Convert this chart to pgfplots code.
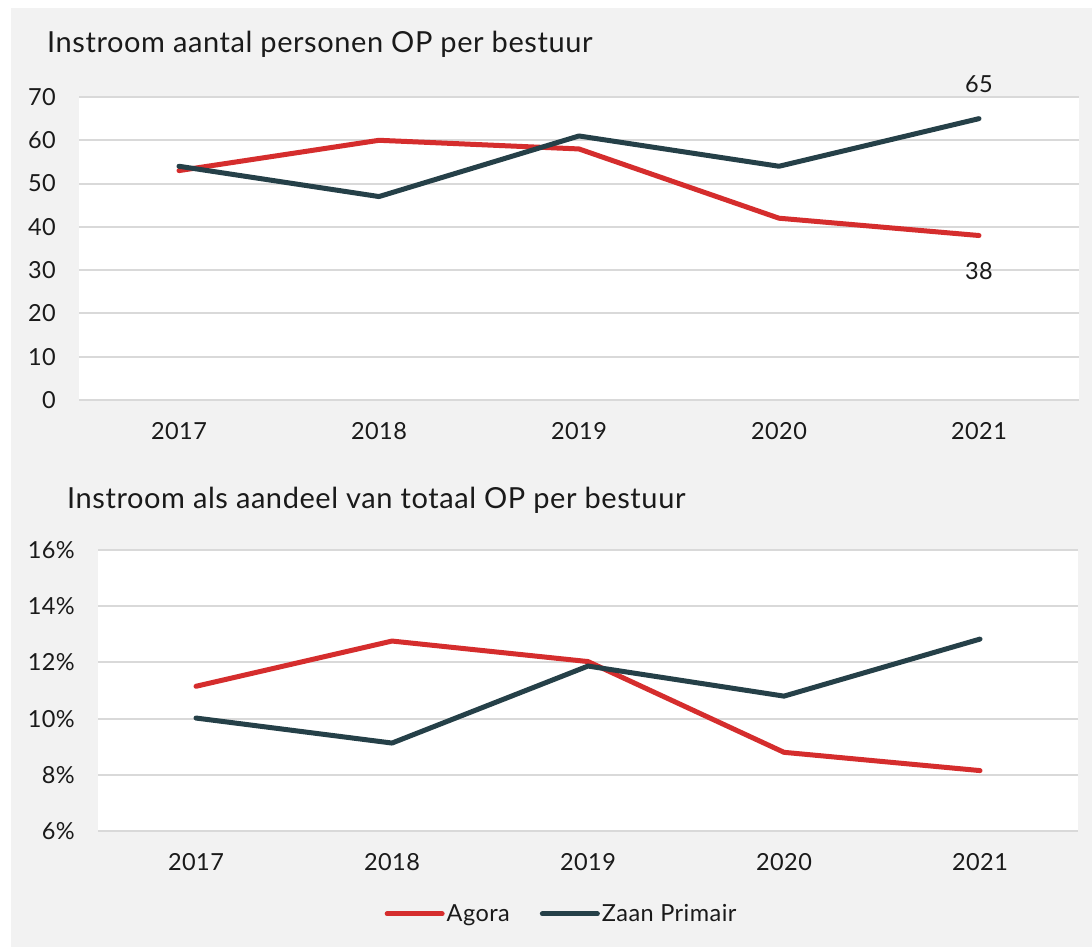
\documentclass[border=0pt]{standalone}
\usepackage{fontspec}
\setmainfont{Lato}
\usepackage{pgfplots}
\pgfplotsset{compat=1.18}
\definecolor{bg}{RGB}{242,242,242}
\definecolor{gridc}{RGB}{217,217,217}
\definecolor{agora}{RGB}{213,45,45}
\definecolor{zaan}{RGB}{37,64,72}
\definecolor{txt}{RGB}{26,26,26}
\newcommand{\tickfont}{\fontsize{23.5}{27}\selectfont\addfontfeatures{LetterSpace=2}}
\newcommand{\titlefont}{\fontsize{29}{33}\selectfont\addfontfeatures{LetterSpace=2}}
\pgfplotsset{
  common/.style={
    scale only axis,
    xmin=-0.5, xmax=4.5,
    xtick={0,1,2,3,4},
    xticklabels={2017,2018,2019,2020,2021},
    ymajorgrids=true, xmajorgrids=false,
    major grid style={draw=gridc, line width=2pt},
    axis line style={draw=none},
    major tick length=0pt,
    tick style={draw=none},
    axis background/.style={fill=white},
    /pgf/number format/assume math mode=true,
    ticklabel style={font=\tickfont, text=txt, inner sep=0pt},
    yticklabel style={anchor=east, xshift=-23pt},
    xticklabel style={anchor=north, yshift=-22pt},
    every axis plot/.append style={line width=5pt, line cap=round, line join=round},
    clip=false,
  }
}
\begin{document}
\begin{tikzpicture}
\fill[white] (0pt,0pt) rectangle (1092pt,-947pt);
\fill[bg] (11pt,-8pt) rectangle (1092pt,-947pt);
\node[anchor=base west, inner sep=0pt, text=txt, font=\titlefont] at (47pt,-53pt) {Instroom aantal personen OP per bestuur};
\node[anchor=base west, inner sep=0pt, text=txt, font=\titlefont] at (67pt,-508pt) {Instroom als aandeel van totaal OP per bestuur};
\begin{axis}[common,
  at={(79pt,-400pt)}, anchor=south west,
  width=1000pt, height=303pt,
  ymin=0, ymax=70, ytick={0,10,...,70},
]
\addplot[agora] coordinates {(0,53) (1,60) (2,58) (3,42) (4,38)};
\addplot[zaan] coordinates {(0,54) (1,47) (2,61) (3,54) (4,65)};
\node[anchor=south, inner sep=0pt, font=\tickfont, text=txt] at (axis cs:4,65) [yshift=26pt] {65};
\node[anchor=north, inner sep=0pt, font=\tickfont, text=txt] at (axis cs:4,38) [yshift=-27pt] {38};
\end{axis}
\begin{axis}[common,
  at={(98pt,-831pt)}, anchor=south west,
  width=980pt, height=281pt,
  ymin=6, ymax=16, ytick={6,8,...,16},
  yticklabel={\pgfmathprintnumber{\tick}\%},
  legend style={at={(0.473,-0.295)}, anchor=center, draw=none, fill=none,
    font=\tickfont, text=txt, legend columns=2,
    /tikz/every even column/.append style={column sep=28pt},
    inner sep=0pt},
  legend image code/.code={\draw[#1, line width=5pt, line cap=round] (0pt,0pt) -- (55pt,0pt);},
  legend cell align=left,
]
\addplot[agora] coordinates {(0,11.15) (1,12.76) (2,12.03) (3,8.8) (4,8.15)};
\addplot[zaan] coordinates {(0,10.02) (1,9.13) (2,11.87) (3,10.8) (4,12.83)};
\legend{Agora, Zaan Primair}
\end{axis}
\end{tikzpicture}
\end{document}
